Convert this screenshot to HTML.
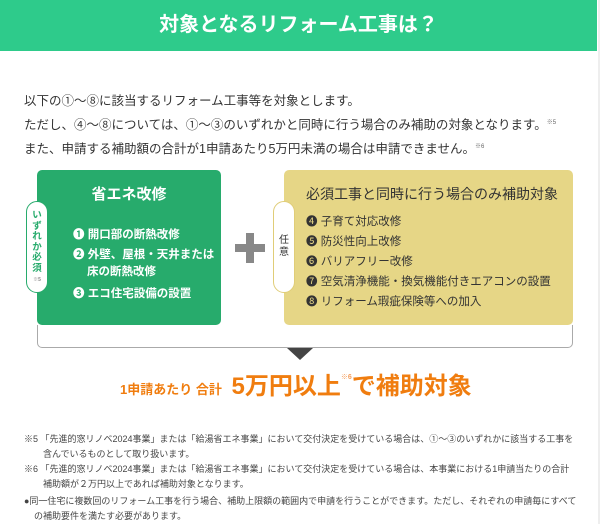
<!DOCTYPE html>
<html><head><meta charset="utf-8"><style>
*{margin:0;padding:0;box-sizing:border-box}
body{width:600px;height:524px;background:#fff;position:relative;overflow:hidden;font-family:"Liberation Sans","Noto Sans CJK JP",sans-serif;color:#333}
.a{position:absolute;white-space:nowrap}
.hdr{left:0;top:0;width:597px;height:51px;background:#2ecb8b;color:#fff;font-size:20px;font-weight:bold;text-align:center;line-height:51px}
.intro{left:24px;font-size:12.5px;color:#333}
.sup{font-size:6px;vertical-align:super;color:#666}
.gbox{left:37px;top:170px;width:184px;height:155px;background:#27ab6c;border-radius:5px}
.ybox{left:284px;top:170px;width:289px;height:155px;background:#e6d686;border-radius:5px}
.pill{background:#fff;border-radius:11px;width:22px;height:92px;top:201px;text-align:center}
.gi{color:#fff;font-size:11.5px;font-weight:bold;left:73px}
.yi{color:#333;font-size:11.5px;left:306px}
.note{font-size:9px;color:#444}
</style></head><body>
<div class="a hdr">対象となるリフォーム工事は？</div>
<div class="a intro" style="top:90px">以下の①～⑧に該当するリフォーム工事等を対象とします。</div>
<div class="a intro" style="top:114px">ただし、④～⑧については、①～③のいずれかと同時に行う場合のみ補助の対象となります。<span class="sup">※5</span></div>
<div class="a intro" style="top:138px">また、申請する補助額の合計が1申請あたり5万円未満の場合は申請できません。<span class="sup">※6</span></div>

<div class="a" style="left:37px;top:325px;width:536px;height:23px;border:1.5px solid #aaa;border-top:none;border-radius:0 0 5px 5px"></div>
<div class="a" style="left:287px;top:348px;width:0;height:0;border-left:13px solid transparent;border-right:13px solid transparent;border-top:12px solid #444"></div>

<div class="a gbox"></div>
<div class="a" style="left:37px;width:184px;top:183px;text-align:center;color:#fff;font-size:15px;font-weight:bold">省エネ改修</div>
<div class="a gi" style="top:226px">❶ 開口部の断熱改修</div>
<div class="a gi" style="top:246px">❷ 外壁、屋根・天井または</div>
<div class="a gi" style="top:263px;left:87px">床の断熱改修</div>
<div class="a gi" style="top:285px">❸ エコ住宅設備の設置</div>
<div class="a pill" style="left:26px;border:1.5px solid #27ab6c;color:#27ab6c;font-size:9.5px;font-weight:bold;line-height:10.5px;padding-top:9px;white-space:normal">い<br>ず<br>れ<br>か<br>必<br>須<br><span style="font-size:5px;color:#888;line-height:8px">※5</span></div>

<div class="a" style="left:235px;top:244px;width:30px;height:8px;background:#888"></div>
<div class="a" style="left:246px;top:233px;width:8px;height:30px;background:#888"></div>

<div class="a ybox"></div>
<div class="a" style="left:306px;top:184px;font-size:14px;color:#333">必須工事と同時に行う場合のみ補助対象</div>
<div class="a yi" style="top:213px">❹ 子育て対応改修</div>
<div class="a yi" style="top:233px">❺ 防災性向上改修</div>
<div class="a yi" style="top:253px">❻ バリアフリー改修</div>
<div class="a yi" style="top:273px">❼ 空気清浄機能・換気機能付きエアコンの設置</div>
<div class="a yi" style="top:293px">❽ リフォーム瑕疵保険等への加入</div>
<div class="a pill" style="left:273px;border:1.5px solid #e0cd78;color:#333;font-size:10px;line-height:12px;padding-top:33px;white-space:normal">任<br>意</div>

<div class="a" style="left:120px;top:371px;color:#f07d0f;font-weight:bold;font-size:13px;line-height:32px">1申請あたり 合計 <span style="font-size:24px;margin-left:6px">5万円以上</span><span style="font-size:7px;vertical-align:top;color:#f5a060;line-height:14px">※6</span><span style="font-size:24px">で補助対象</span></div>

<div class="a note" style="left:24px;top:432px">※5 「先進的窓リノベ2024事業」または「給湯省エネ事業」において交付決定を受けている場合は、①～③のいずれかに該当する工事を</div>
<div class="a note" style="left:43px;top:447px">含んでいるものとして取り扱います。</div>
<div class="a note" style="left:24px;top:462px">※6 「先進的窓リノベ2024事業」または「給湯省エネ事業」において交付決定を受けている場合は、本事業における1申請当たりの合計</div>
<div class="a note" style="left:43px;top:477px">補助額が２万円以上であれば補助対象となります。</div>
<div class="a note" style="left:24px;top:494px">●同一住宅に複数回のリフォーム工事を行う場合、補助上限額の範囲内で申請を行うことができます。ただし、それぞれの申請毎にすべて</div>
<div class="a note" style="left:34px;top:509px">の補助要件を満たす必要があります。</div>
<div class="a" style="left:598px;top:0;width:2px;height:524px;background:#eee"></div>
</body></html>
